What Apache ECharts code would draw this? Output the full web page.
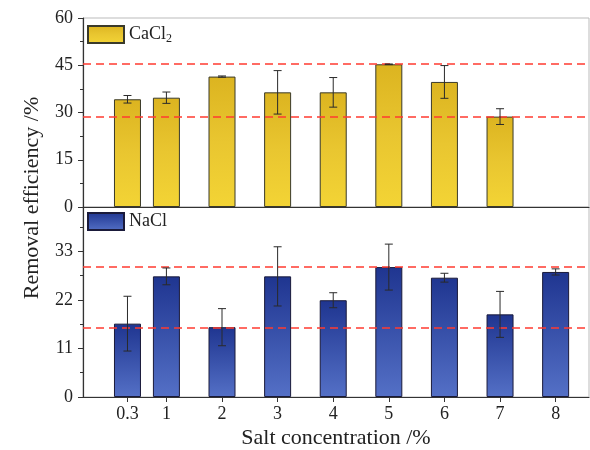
<!DOCTYPE html>
<html>
<head>
<meta charset="utf-8">
<script src="https://cdn.jsdelivr.net/npm/echarts@6/dist/echarts.min.js"></script>
<style>html,body{margin:0;padding:0;background:#fff}#c{width:590px;height:450px}</style>
</head>
<body>
<div id="c"></div>
<script>
var categories = [0.3, 1, 2, 3, 4, 5, 6, 7, 8];
var cacl2 = [34.2, 34.7, 41.4, 36.4, 36.4, 45.3, 39.7, 28.7, null];
var cacl2Err = [1.2, 1.8, 0.2, 6.9, 4.7, 0.1, 5.2, 2.5, null];
var nacl = [16.6, 27.3, 15.8, 27.3, 21.9, 29.4, 27.0, 18.7, 28.3];
var naclErr = [6.2, 1.9, 4.2, 6.7, 1.7, 5.2, 1.0, 5.2, 0.7];
var cacl2Lines = [45.4, 28.8];
var naclLines = [29.5, 15.7];
var topTicks = [0, 15, 30, 45, 60];
var bottomTicks = [0, 11, 22, 33];

var FONT = "'Liberation Serif','Times New Roman',serif";
var chart = echarts.init(document.getElementById('c'));

function pairs(xs, ys) {
  var out = [];
  for (var i = 0; i < xs.length; i++) if (ys[i] != null) out.push([xs[i], ys[i]]);
  return out;
}
function triples(xs, ys, es) {
  var out = [];
  for (var i = 0; i < xs.length; i++) if (ys[i] != null) out.push([xs[i], ys[i], es[i]]);
  return out;
}
function renderErr(params, api) {
  var x = api.value(0), y = api.value(1), e = api.value(2);
  var hi = api.coord([x, y + e]), lo = api.coord([x, y - e]);
  var c = 4;
  var st = {stroke: '#2a2a2a', lineWidth: 1};
  return {type: 'group', children: [
    {type: 'line', shape: {x1: hi[0], y1: hi[1], x2: lo[0], y2: lo[1]}, style: st},
    {type: 'line', shape: {x1: hi[0] - c, y1: hi[1], x2: hi[0] + c, y2: hi[1]}, style: st},
    {type: 'line', shape: {x1: lo[0] - c, y1: lo[1], x2: lo[0] + c, y2: lo[1]}, style: st}
  ]};
}
function markLines(vals) {
  return {
    silent: true, symbol: 'none', label: {show: false},
    lineStyle: {color: '#ff3b30', type: [8, 5], width: 1.5},
    data: vals.map(function (v) { return {yAxis: v}; })
  };
}
var gold = new echarts.graphic.LinearGradient(0, 0, 0, 1, [
  {offset: 0, color: '#dcb420'}, {offset: 0.5, color: '#e9c630'}, {offset: 1, color: '#f3d435'}]);
var blue = new echarts.graphic.LinearGradient(0, 0, 0, 1, [
  {offset: 0, color: '#1f3590'}, {offset: 1, color: '#5470c6'}]);

var xCommon = {
  type: 'value', min: -0.5, max: 8.6,
  splitLine: {show: false},
  axisLine: {onZero: false, lineStyle: {color: '#333', width: 1.2}}
};
var yCommon = {
  type: 'value', min: 0,
  splitLine: {show: false},
  axisLine: {show: true, onZero: false, lineStyle: {color: '#333', width: 1.2}},
  axisTick: {show: true, inside: false, length: 5, lineStyle: {color: '#333'}},
  minorTick: {show: true, splitNumber: 2, length: 3, lineStyle: {color: '#333'}},
  axisLabel: {fontFamily: FONT, fontSize: 18, color: '#222', margin: 10}
};

chart.setOption({
  animation: false,
  backgroundColor: '#fff',
  grid: [
    {left: 83, top: 18, width: 506, height: 189, show: true, borderColor: '#bbb', borderWidth: 1, backgroundColor: 'transparent'},
    {left: 83, top: 207, width: 506, height: 190, show: true, borderColor: '#bbb', borderWidth: 1, backgroundColor: 'transparent'}
  ],
  legend: [
    {data: ['CaCl2'], left: 87, top: 25, padding: 0, itemWidth: 36, itemHeight: 17, icon: 'rect', itemGap: 4,
      formatter: function () { return '{n|CaCl}{s|2}'; },
      textStyle: {rich: {n: {fontFamily: FONT, fontSize: 18, color: '#222'}, s: {fontFamily: FONT, fontSize: 12, color: '#222', padding: [9, 0, 0, 0]}}}},
    {data: ['NaCl'], left: 87, top: 212, padding: 0, itemWidth: 36, itemHeight: 17, icon: 'rect', itemGap: 6,
      textStyle: {fontFamily: FONT, fontSize: 18, color: '#222'}}
  ],
  xAxis: [
    Object.assign({}, xCommon, {gridIndex: 0, axisTick: {show: false}, axisLabel: {show: false}}),
    Object.assign({}, xCommon, {gridIndex: 1,
      axisTick: {show: true, length: 5, customValues: categories, lineStyle: {color: '#333'}},
      axisLabel: {customValues: categories, fontFamily: FONT, fontSize: 18, color: '#222', margin: 8},
      name: 'Salt concentration /%', nameLocation: 'middle', nameGap: 30,
      nameTextStyle: {fontFamily: FONT, fontSize: 22, color: '#222'}})
  ],
  yAxis: [
    Object.assign({}, yCommon, {gridIndex: 0, max: 60, interval: 15}),
    Object.assign({}, yCommon, {gridIndex: 1, max: 43, interval: 11,
      axisLabel: Object.assign({}, yCommon.axisLabel, {showMaxLabel: false})})
  ],
  graphic: [
    {type: 'text', x: 32, y: 198, rotation: Math.PI / 2,
      style: {text: 'Removal efficiency /%', font: '22px ' + FONT, fill: '#222', align: 'center', verticalAlign: 'middle'}}
  ],
  series: [
    {name: 'CaCl2', type: 'bar', xAxisIndex: 0, yAxisIndex: 0, barWidth: 27,
      data: pairs(categories, cacl2),
      itemStyle: {color: gold, borderColor: '#3a3a2a', borderWidth: 1},
      markLine: markLines(cacl2Lines)},
    {name: 'CaCl2err', type: 'custom', xAxisIndex: 0, yAxisIndex: 0, renderItem: renderErr,
      data: triples(categories, cacl2, cacl2Err), z: 5},
    {name: 'NaCl', type: 'bar', xAxisIndex: 1, yAxisIndex: 1, barWidth: 27,
      data: pairs(categories, nacl),
      itemStyle: {color: blue, borderColor: '#1a1a3a', borderWidth: 1},
      markLine: markLines(naclLines)},
    {name: 'NaClerr', type: 'custom', xAxisIndex: 1, yAxisIndex: 1, renderItem: renderErr,
      data: triples(categories, nacl, naclErr), z: 5}
  ]
});
</script>
</body>
</html>
